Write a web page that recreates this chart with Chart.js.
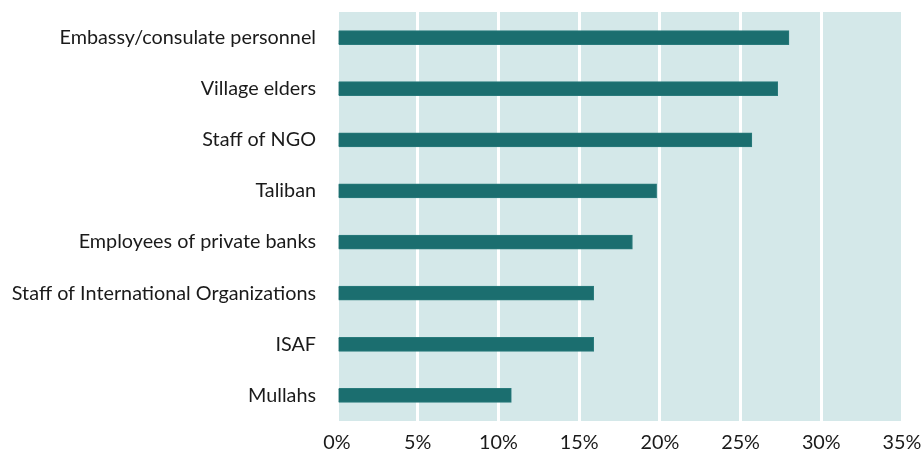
<!DOCTYPE html>
<html>
<head>
<meta charset="utf-8">
<script src="https://cdn.jsdelivr.net/npm/chart.js@4/dist/chart.umd.min.js"></script>
<style>
  html, body { margin: 0; padding: 0; background: #fff; }
  #wrap { width: 923px; height: 458px; }
</style>
</head>
<body>
<div id="wrap"><canvas id="chart" width="923" height="458"></canvas></div>
<script>
const categories = [
  "Embassy/consulate personnel",
  "Village elders",
  "Staff of NGO",
  "Taliban",
  "Employees of private banks",
  "Staff of International Organizations",
  "ISAF",
  "Mullahs"
];
const shares = [28.0, 27.3, 25.7, 19.8, 18.3, 15.9, 15.9, 10.8];
const xTicks = [0, 5, 10, 15, 20, 25, 30, 35];

const plotBg = {
  id: 'plotBg',
  beforeDraw(chart) {
    const { ctx, chartArea: a } = chart;
    ctx.save();
    ctx.fillStyle = '#d4e8e9';
    ctx.fillRect(a.left, a.top, a.right - a.left, a.bottom - a.top);
    ctx.restore();
  }
};

const ctx = document.getElementById('chart').getContext('2d');
new Chart(ctx, {
  type: 'bar',
  data: {
    labels: categories,
    datasets: [{
      data: shares,
      backgroundColor: '#1b6e6f',
      borderColor: '#2a7b7c',
      borderWidth: 1,
      barThickness: 14
    }]
  },
  options: {
    indexAxis: 'y',
    responsive: false,
    animation: false,
    layout: { padding: { top: 12, right: 0, left: 0, bottom: 0 } },
    plugins: { legend: { display: false }, tooltip: { enabled: false } },
    scales: {
      x: {
        min: 0,
        max: 35,
        afterBuildTicks(scale) { scale.ticks = xTicks.map(v => ({ value: v })); },
        afterFit(scale) {
          scale.height = 37;
          scale.paddingLeft = 0;
          scale.paddingRight = 21;
        },
        grid: { color: '#ffffff', lineWidth: 3, drawTicks: false },
        border: { display: false },
        ticks: {
          padding: 10,
          color: '#1a1a1a',
          font: { family: 'Lato', size: 19.8 },
          callback: v => v + '%'
        }
      },
      y: {
        afterFit(scale) {
          scale.width = 337;
          scale.paddingTop = 0;
          scale.paddingBottom = 0;
        },
        grid: { display: false, drawTicks: false },
        border: { display: false },
        ticks: {
          padding: 21,
          color: '#1a1a1a',
          font: { family: 'Lato', size: 19.8 }
        }
      }
    }
  },
  plugins: [plotBg]
});
</script>
</body>
</html>
